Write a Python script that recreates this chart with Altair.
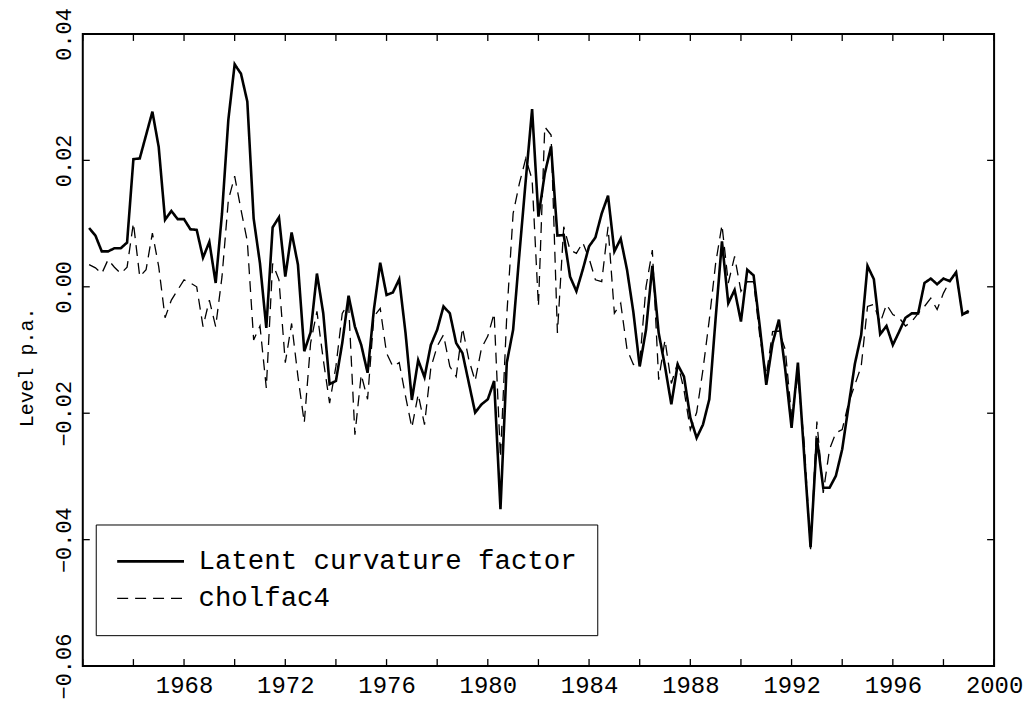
import altair as alt
import numpy as np
import pandas as pd

# ---------------- data (quarterly) ----------------
start_year = 1964.25
quarter_step = 0.25

latent = [
    0.0093, 0.0081, 0.0056, 0.0056, 0.0061, 0.0061, 0.0070, 0.0202, 0.0203, 0.0240,
    0.0277, 0.0221, 0.0106, 0.0120, 0.0107, 0.0107, 0.0091, 0.0090, 0.0046, 0.0071,
    0.0006, 0.0116, 0.0264, 0.0352, 0.0337, 0.0293, 0.0108, 0.0037, -0.0065, 0.0094,
    0.0110, 0.0016, 0.0086, 0.0035, -0.0102, -0.0072, 0.0021, -0.0042, -0.0154, -0.0149,
    -0.0089, -0.0014, -0.0063, -0.0092, -0.0136, -0.0036, 0.0038, -0.0013, -0.0009, 0.0012,
    -0.0073, -0.0179, -0.0116, -0.0143, -0.0092, -0.0068, -0.0031, -0.0042, -0.0089, -0.0105,
    -0.0152, -0.0199, -0.0186, -0.0178, -0.0149, -0.0352, -0.0120, -0.0068, 0.0053, 0.0169,
    0.0281, 0.0111, 0.0179, 0.0222, 0.0081, 0.0082, 0.0016, -0.0007, 0.0027, 0.0064,
    0.0078, 0.0116, 0.0144, 0.0056, 0.0076, 0.0027, -0.0040, -0.0126, -0.0068, 0.0033,
    -0.0073, -0.0126, -0.0186, -0.0123, -0.0142, -0.0207, -0.0239, -0.0218, -0.0178, -0.0050,
    0.0072, -0.0026, -0.0005, -0.0055, 0.0027, 0.0018, -0.0065, -0.0155, -0.0089, -0.0052,
    -0.0131, -0.0223, -0.0120, -0.0268, -0.0412, -0.0239, -0.0318, -0.0318, -0.0299, -0.0257,
    -0.0189, -0.0122, -0.0076, 0.0033, 0.0012, -0.0075, -0.0062, -0.0092, -0.0071, -0.0049,
    -0.0042, -0.0042, 0.0006, 0.0013, 0.0004, 0.0013, 0.0009, 0.0023, -0.0044, -0.0038,
]

cholfac4 = [
    0.0035, 0.0030, 0.0021, 0.0043, 0.0031, 0.0021, 0.0031, 0.0101, 0.0016, 0.0027,
    0.0085, 0.0032, -0.0049, -0.0021, -0.0005, 0.0011, 0.0006, 0.0000, -0.0063, -0.0021,
    -0.0063, 0.0016, 0.0137, 0.0175, 0.0122, 0.0072, -0.0084, -0.0062, -0.0160, 0.0037,
    0.0011, -0.0120, -0.0058, -0.0142, -0.0215, -0.0089, -0.0039, -0.0115, -0.0184, -0.0126,
    -0.0042, -0.0026, -0.0234, -0.0139, -0.0178, -0.0047, -0.0034, -0.0105, -0.0126, -0.0120,
    -0.0173, -0.0223, -0.0170, -0.0218, -0.0128, -0.0094, -0.0076, -0.0126, -0.0142, -0.0065,
    -0.0115, -0.0149, -0.0097, -0.0078, -0.0042, -0.0270, -0.0045, 0.0116, 0.0164, 0.0203,
    0.0170, -0.0031, 0.0253, 0.0240, -0.0073, 0.0095, 0.0058, 0.0053, 0.0070, 0.0045,
    0.0011, 0.0008, 0.0095, -0.0042, -0.0026, -0.0099, -0.0123, -0.0120, 0.0000, 0.0058,
    -0.0147, -0.0084, -0.0153, -0.0120, -0.0163, -0.0226, -0.0199, -0.0131, -0.0052, 0.0037,
    0.0098, 0.0006, 0.0048, -0.0007, 0.0008, 0.0008, -0.0080, -0.0140, -0.0071, -0.0070,
    -0.0099, -0.0205, -0.0142, -0.0247, -0.0415, -0.0213, -0.0326, -0.0257, -0.0231, -0.0226,
    -0.0184, -0.0155, -0.0126, -0.0031, -0.0028, -0.0057, -0.0028, -0.0044, -0.0049, -0.0062,
    -0.0055, -0.0042, -0.0031, -0.0018, -0.0036, -0.0010, 0.0009, 0.0023, -0.0044, -0.0041,
]

series_names = ["Latent curvature factor", "cholfac4"]
x_tick_years = [1964, 1966, 1968, 1970, 1972, 1974, 1976, 1978, 1980, 1982,
                1984, 1986, 1988, 1990, 1992, 1994, 1996, 1998, 2000]
x_label_years = [1968, 1972, 1976, 1980, 1984, 1988, 1992, 1996, 2000]
y_ticks = [-0.06, -0.04, -0.02, 0.0, 0.02, 0.04]

n = len(latent)
years = start_year + quarter_step * np.arange(n)
df = pd.DataFrame({
    "year": np.concatenate([years, years]),
    "value": latent + cholfac4,
    "series": [series_names[0]] * n + [series_names[1]] * n,
})
xt = pd.DataFrame({"year": x_tick_years})
yt = pd.DataFrame({"value": y_ticks})

# ---------------- styling ----------------
W, H = 914, 634
FONT = "Liberation Mono"
TICK = 7

x_scale = alt.Scale(domain=[1964, 2000], nice=False, zero=False)
y_scale = alt.Scale(domain=[-0.06, 0.04], nice=False, zero=False)

x_axis = alt.Axis(values=x_label_years, format="d", title=None, ticks=False,
                  domain=False, grid=False, labelFont=FONT, labelFontSize=24,
                  labelColor="black", labelBaseline="alphabetic",
                  labelPadding=27, labelFlush=False, labelOverlap=False)
y_axis = alt.Axis(values=y_ticks, format=".2f", title="Level p.a.", ticks=False,
                  domain=False, grid=False, labelFont=FONT, labelFontSize=22,
                  labelColor="black", labelAngle=270, labelAlign="center",
                  labelBaseline="alphabetic", labelPadding=12, labelFlush=False,
                  labelOverlap=False,
                  titleFont=FONT, titleFontSize=20, titleFontWeight="normal",
                  titleColor="black", titleAngle=270, titleAlign="center",
                  titleBaseline="alphabetic", titleX=-50, titleY=334)

X = alt.X("year:Q", scale=x_scale, axis=x_axis)
Y = alt.Y("value:Q", scale=y_scale, axis=y_axis)

legend = alt.Legend(orient="none", legendX=13, legendY=492, title=None,
                    fillColor="white", strokeColor="black", padding=20,
                    symbolType="stroke", symbolSize=4489,
                    symbolStrokeColor="black", labelFont=FONT,
                    labelFontSize=27.5, labelColor="black", labelOffset=13,
                    labelLimit=1000, clipHeight=34, rowPadding=3)

lines = alt.Chart(df).mark_line(color="black", strokeJoin="miter").encode(
    x=X,
    y=Y,
    strokeDash=alt.StrokeDash("series:N", sort=series_names,
                              scale=alt.Scale(domain=series_names,
                                              range=[[1, 0], [11, 7]]),
                              legend=legend),
    strokeWidth=alt.StrokeWidth("series:N", sort=series_names,
                                scale=alt.Scale(domain=series_names,
                                                range=[2.6, 1.3]),
                                legend=legend),
)

bottom_ticks = alt.Chart(xt).mark_rule(color="black", strokeWidth=1.3).encode(
    x=X, y=alt.value(H), y2=alt.value(H - TICK))
top_ticks = alt.Chart(xt).mark_rule(color="black", strokeWidth=1.3).encode(
    x=X, y=alt.value(0), y2=alt.value(TICK))
left_ticks = alt.Chart(yt).mark_rule(color="black", strokeWidth=1.3).encode(
    y=Y, x=alt.value(0), x2=alt.value(TICK))
right_ticks = alt.Chart(yt).mark_rule(color="black", strokeWidth=1.3).encode(
    y=Y, x=alt.value(W), x2=alt.value(W - TICK))

chart = alt.layer(lines, bottom_ticks, top_ticks, left_ticks, right_ticks).properties(
    width=W,
    height=H,
    padding={"left": 75, "top": 25, "right": 30, "bottom": 32},
    autosize=alt.AutoSizeParams(type="none"),
    background="white",
).configure_view(stroke="black", strokeWidth=2)

chart.save("out.html", embed_options={"renderer": "svg", "actions": False})
